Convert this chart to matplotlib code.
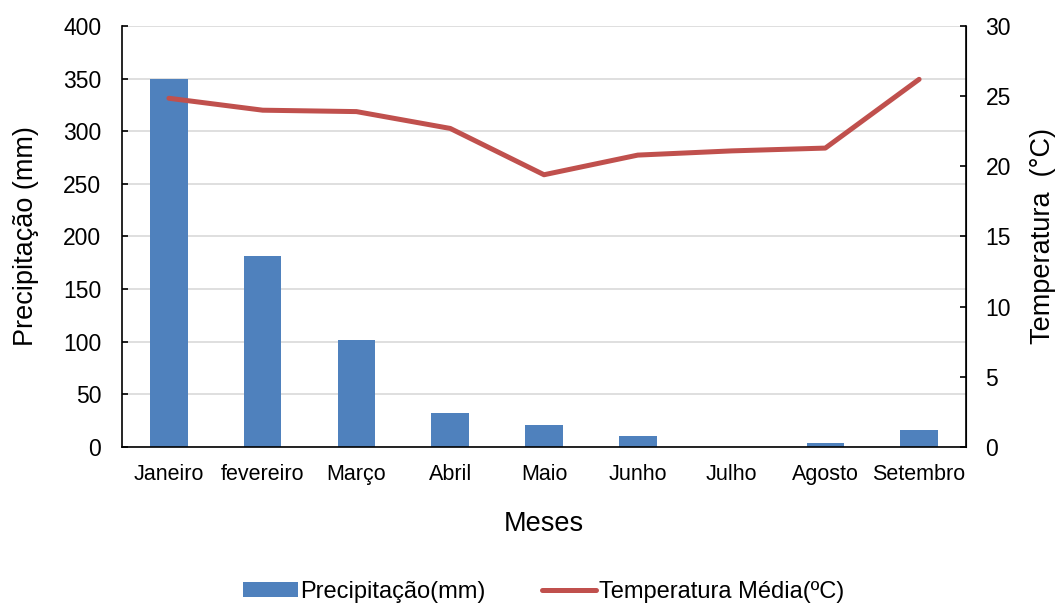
import matplotlib.pyplot as plt
import numpy as np

plt.rcParams['font.family'] = ['Liberation Sans', 'DejaVu Sans']

meses = ['Janeiro', 'fevereiro', 'Março', 'Abril', 'Maio', 'Junho',
         'Julho', 'Agosto', 'Setembro']
precipitacao = [350, 181, 102, 32.6, 21, 10.7, 0, 3.5, 16]
temperatura = [24.85, 24.0, 23.9, 22.7, 19.4, 20.8, 21.1, 21.3, 26.2]

BAR = '#4f81bd'
LINE = '#c0504d'
GRID = '#d9d9d9'

fig = plt.figure(figsize=(10.62, 6.06), dpi=100)
ax = fig.add_axes([0.1149, 0.2624, 0.7947, 0.6947])
ax2 = ax.twinx()

x = np.arange(len(meses))
bars = ax.bar(x, precipitacao, width=0.4, color=BAR, zorder=2,
              label='Precipitação(mm)')
ln, = ax2.plot(x, temperatura, color=LINE, linewidth=3.6,
               solid_capstyle='round', label='Temperatura Média(ºC)')

ax.set_xlim(-0.5, len(meses) - 0.5)
ax.set_ylim(0, 400)
ax.set_yticks(range(0, 401, 50))
ax2.set_ylim(0, 30)
ax2.set_yticks(range(0, 31, 5))

ax.set_xticks(x)
ax.set_xticklabels(meses)
ax.grid(axis='y', color=GRID, linewidth=1.2, zorder=0)
ax.set_axisbelow(True)

for a in (ax, ax2):
    a.spines['top'].set_visible(False)
    a.tick_params(colors='black')
ax.tick_params(axis='x', length=0, pad=12, labelsize=15.5)
ax.tick_params(axis='y', direction='in', length=4.5, width=1.2, pad=15,
               labelsize=16.5)
ax2.tick_params(axis='y', direction='in', length=4.5, width=1.2, pad=14,
                labelsize=16.5)
ax.spines['left'].set_linewidth(1.2)
ax.spines['bottom'].set_linewidth(1.2)
ax2.spines['right'].set_linewidth(1.2)
ax2.spines['left'].set_visible(False)
ax2.spines['bottom'].set_visible(False)

ax.set_ylabel('Precipitação (mm)', fontsize=19.5, labelpad=17)
ax2.set_ylabel('Temperatura  (°C)', fontsize=19.5, labelpad=14)
ax.set_xlabel('Meses', fontsize=19.5, labelpad=19)

fig.legend(handles=[bars, ln], loc='center', bbox_to_anchor=(0.512, 0.023),
           ncol=2, frameon=False, fontsize=17, handlelength=2.3,
           handleheight=0.6, handletextpad=0.1, columnspacing=2.4)

fig.savefig('out.png', dpi=100, facecolor='white')
